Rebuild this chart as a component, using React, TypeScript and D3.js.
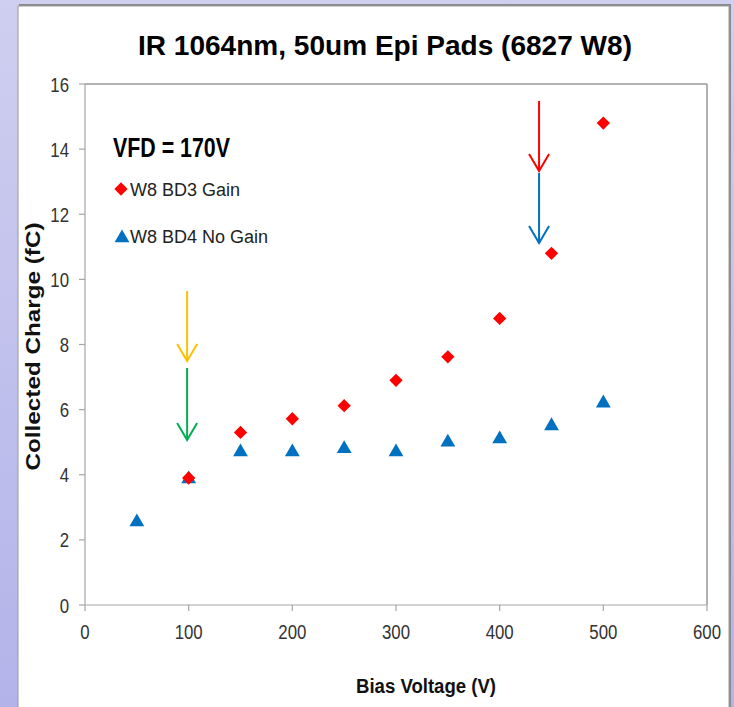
import React from "react";
import * as d3 from "d3";

const title = "IR 1064nm, 50um Epi Pads (6827 W8)";
const xLabel = "Bias Voltage (V)";
const yLabel = "Collected Charge (fC)";
const note = "VFD = 170V";

const xTicks = [0, 100, 200, 300, 400, 500, 600];
const yTicks = [0, 2, 4, 6, 8, 10, 12, 14, 16];

const gainName = "W8 BD3 Gain";
const gainV = [100, 150, 200, 250, 300, 350, 400, 450, 500];
const gainQ = [3.9, 5.3, 5.72, 6.12, 6.9, 7.62, 8.8, 10.8, 14.8];

const noGainName = "W8 BD4 No Gain";
const noGainV = [50, 100, 150, 200, 250, 300, 350, 400, 450, 500];
const noGainQ = [2.55, 3.87, 4.7, 4.7, 4.8, 4.7, 5.0, 5.1, 5.5, 6.2];

// annotation arrows in data coordinates
const arrowX = [98.5, 98.5, 438, 438];
const arrowFrom = [9.64, 7.28, 15.48, 13.27];
const arrowTo = [7.49, 5.07, 13.33, 11.12];
const arrowColor = ["#FFC000", "#00B050", "#FF0000", "#0070C0"];

const W = 734;
const H = 707;
const plot = { left: 85, right: 707, top: 84, bottom: 605 };

export default function App() {
  const x = d3.scaleLinear().domain([0, 600]).range([plot.left, plot.right]);
  const y = d3.scaleLinear().domain([0, 16]).range([plot.bottom, plot.top]);

  const diamond = d3.symbol().type(d3.symbolSquare).size(88)() as string;
  const triangle = d3.symbol().type(d3.symbolTriangle).size(95)() as string;

  const axisColor = "#a6a6a6";
  const tickFs = 20;
  const digitW = 0.556 * tickFs * 0.84;
  const font = "'Liberation Sans', Arial, sans-serif";

  return (
    <svg
      width={W}
      height={H}
      style={{ position: "absolute", left: 0, top: 0, display: "block" }}
      fontFamily={font}
    >
      <defs>
        <linearGradient id="bg" x1="0" y1="0" x2="0" y2="1">
          <stop offset="0" stopColor="#cfcff0" />
          <stop offset="1" stopColor="#b3b3ea" />
        </linearGradient>
      </defs>
      <rect x={0} y={0} width={W} height={H} fill="url(#bg)" />
      {/* panel with shadow */}
      <rect x={19} y={4} width={712} height={H} fill="#8a8a8a" />
      <rect x={18} y={6} width={711} height={H} fill="#ffffff" stroke="#9a9a9a" strokeWidth={1} />

      {/* title */}
      <text
        x={385}
        y={55}
        textAnchor="middle"
        fontSize={27}
        fontWeight="bold"
        fill="#000"
        textLength={494}
        lengthAdjust="spacingAndGlyphs"
      >
        {title}
      </text>

      {/* frame top and right */}
      <line x1={plot.left} x2={plot.right} y1={plot.top} y2={plot.top} stroke="#999" strokeWidth={1.5} />
      <line x1={plot.right} x2={plot.right} y1={plot.top} y2={plot.bottom} stroke="#999" strokeWidth={1.5} />

      {/* axes */}
      <line x1={plot.left} x2={plot.left} y1={plot.top} y2={plot.bottom} stroke={axisColor} strokeWidth={1.2} />
      <line x1={plot.left} x2={plot.right} y1={plot.bottom} y2={plot.bottom} stroke={axisColor} strokeWidth={1.2} />

      {yTicks.map((t) => (
        <g key={"y" + t}>
          <line x1={plot.left - 6} x2={plot.left} y1={y(t)} y2={y(t)} stroke={axisColor} strokeWidth={1.2} />
          <text
            x={69}
            y={y(t) + 7.5}
            textAnchor="end"
            fontSize={tickFs}
            fill="#333"
            textLength={String(t).length * digitW}
            lengthAdjust="spacingAndGlyphs"
          >
            {t}
          </text>
        </g>
      ))}
      {xTicks.map((t) => (
        <g key={"x" + t}>
          <line x1={x(t)} x2={x(t)} y1={plot.bottom} y2={plot.bottom + 6} stroke={axisColor} strokeWidth={1.2} />
          <text
            x={x(t)}
            y={639}
            textAnchor="middle"
            fontSize={tickFs}
            fill="#333"
            textLength={String(t).length * digitW}
            lengthAdjust="spacingAndGlyphs"
          >
            {t}
          </text>
        </g>
      ))}

      {/* axis titles */}
      <text
        x={426}
        y={693}
        textAnchor="middle"
        fontSize={20}
        fontWeight="bold"
        fill="#111"
        textLength={140}
        lengthAdjust="spacingAndGlyphs"
      >
        {xLabel}
      </text>
      <text
        transform={`translate(40, ${(plot.top + plot.bottom) / 2 + 2}) rotate(-90)`}
        textAnchor="middle"
        fontSize={21}
        fontWeight="bold"
        fill="#111"
        textLength={248}
        lengthAdjust="spacingAndGlyphs"
      >
        {yLabel}
      </text>

      {/* note + legend */}
      <text
        x={113}
        y={157}
        fontSize={27}
        fontWeight="bold"
        fill="#000"
        textLength={117}
        lengthAdjust="spacingAndGlyphs"
      >
        {note}
      </text>
      <path d={diamond} transform="translate(121,189) rotate(45)" fill="#FF0000" />
      <text x={130} y={196} fontSize={18} fill="#222">
        {gainName}
      </text>
      <path d={triangle} transform="translate(122,238)" fill="#0070C0" />
      <text x={130} y={243} fontSize={18} fill="#222">
        {noGainName}
      </text>

      {/* arrows */}
      {arrowX.map((ax, i) => {
        const px = x(ax);
        const y1 = y(arrowFrom[i]);
        const y2 = y(arrowTo[i]);
        return (
          <g key={"a" + i} stroke={arrowColor[i]} strokeWidth={2} fill="none">
            <line x1={px} x2={px} y1={y1} y2={y2} />
            <polyline points={`${px - 10},${y2 - 17} ${px},${y2} ${px + 10},${y2 - 17}`} />
          </g>
        );
      })}

      {/* data */}
      {noGainV.map((v, i) => (
        <path key={"n" + i} d={triangle} transform={`translate(${x(v)},${y(noGainQ[i])})`} fill="#0070C0" />
      ))}
      {gainV.map((v, i) => (
        <path
          key={"g" + i}
          d={diamond}
          transform={`translate(${x(v)},${y(gainQ[i])}) rotate(45)`}
          fill="#FF0000"
        />
      ))}
    </svg>
  );
}
